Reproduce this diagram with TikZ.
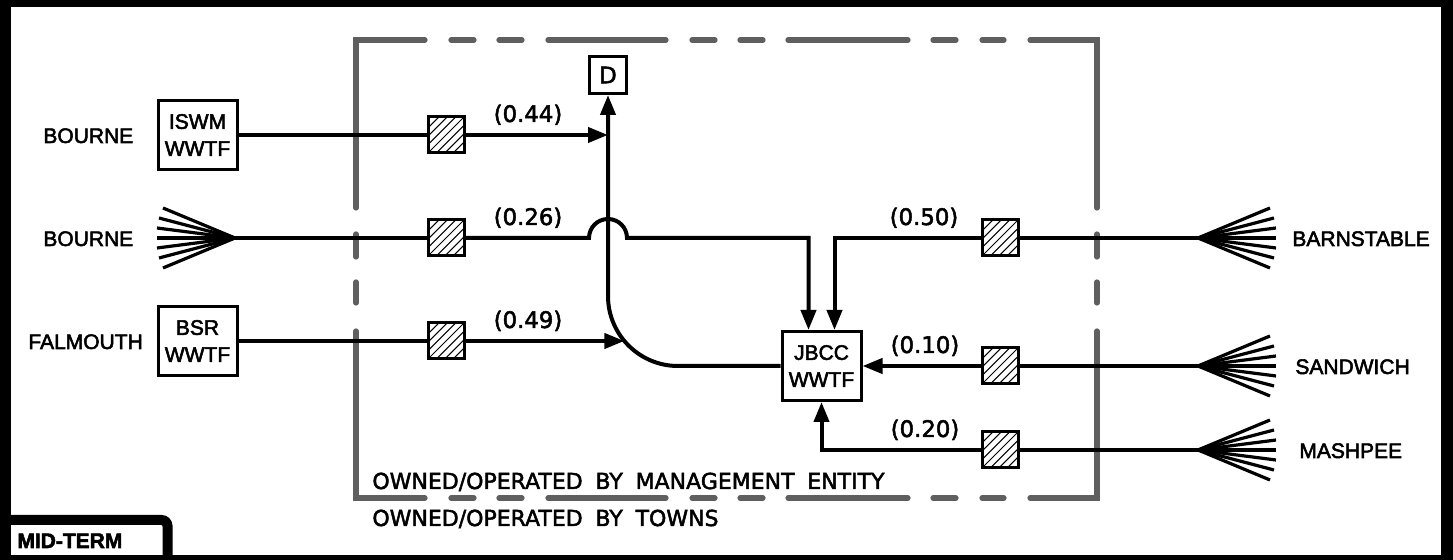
\documentclass[tikz,border=0pt]{standalone}
\usepackage{fontspec}
\setmainfont{Liberation Sans}[FakeBold=2.5]
\newfontfamily\cadfont{DejaVu Sans}[FakeBold=2.2]
\newfontfamily\numfont{DejaVu Sans}[FakeBold=2.2]
\usepackage{tikz}
\usetikzlibrary{arrows.meta, positioning, calc}
\definecolor{ownedgray}{RGB}{95, 95, 95}
\newcommand{\labelfont}{\fontsize{10.5pt}{13.5pt}\selectfont}
\newcommand{\cadlabelfont}{\cadfont\fontsize{11pt}{13pt}\selectfont\spaceskip=6.4pt\relax}
\tikzset{
    plant/.style={rectangle, draw, line width=1.5pt, fill=white, minimum width=39.5pt, minimum height=34.5pt, inner sep=0pt, align=center, font=\labelfont},
    dbox/.style={rectangle, draw, line width=1.5pt, fill=white, minimum size=18.5pt, inner sep=0pt, font=\numfont\fontsize{11.4pt}{13pt}\selectfont},
    meter/.style={rectangle, draw, line width=1.5pt, fill=white, minimum size=18pt, inner sep=0pt,
        path picture={\foreach \k in {-4,...,4} \draw[line width=0.5pt] ([xshift=\k*4.2pt]path picture bounding box.south west) -- ++(18pt,18pt);}},
    pipe/.style={draw, line width=2pt},
    flow/.style={pipe, -{Triangle[length=10pt, width=7.5pt]}},
    fanline/.style={draw, line width=1.6pt},
    boundary/.style={draw=ownedgray, line width=2.6pt, line cap=round},
    townlabel/.style={font=\labelfont, inner sep=0pt, anchor=base west},
    flowlabel/.style={font=\numfont\fontsize{11.4pt}{13pt}\selectfont, inner sep=0pt, anchor=base},
    cadtext/.style={font=\cadlabelfont, inner sep=0pt, anchor=base west}
}

\begin{document}
\begin{tikzpicture}[x=0.5pt, y=-0.5pt]
        \useasboundingbox (0,0) rectangle (1453,560);

        % sheet frame
        \fill[black] (0,0) rectangle (1453,560);
        \fill[white] (11,7) rectangle (1441,555);
        \draw[line width=5pt, rounded corners=3pt] (0,520) -- (167.5,520) -- (167.5,562);
        \node[font=\labelfont\bfseries, inner sep=0pt, anchor=base west] (phase) at (17,548) {MID-TERM};

        % management entity boundary
        \draw[boundary] (425,40) -- (356,40) -- (356,208);
        \draw[boundary] (1030,40) -- (1097,40) -- (1097,208);
        \draw[boundary] (356,331) -- (356,498) -- (425,498);
        \draw[boundary] (1097,331) -- (1097,498) -- (1030,498);
        \foreach \y in {40,498}
            \foreach \a/\b in {451/474, 499/522, 548/666, 692/715, 740/763, 788/908, 933/956, 982/1004}
                \draw[boundary] (\a,\y) -- (\b,\y);
        \foreach \x in {356,1097}
            \foreach \a/\b in {234/257, 282/303}
                \draw[boundary] (\x,\a) -- (\x,\b);

        \node[cadtext] (mgmt) at (372,489) {OWNED/OPERATED BY MANAGEMENT ENTITY};
        \node[cadtext] (towns) at (372,526) {OWNED/OPERATED BY TOWNS};

        % plants
        \node[plant] (iswm) at (197.5,135) {ISWM\\WWTF};
        \node[plant] (bsr) at (197.5,341) {BSR\\WWTF};
        \node[plant] (jbcc) at (821.5,366) {JBCC\\WWTF};
        \node[dbox] (dest) at (608,75) {D};

        % town labels
        \node[townlabel] (lbourne) at (43,143) {BOURNE};
        \node[townlabel] (sbourne) at (43,246) {BOURNE};
        \node[townlabel] (falmouth) at (28,349) {FALMOUTH};
        \node[townlabel] (barnstable) at (1292,246) {BARNSTABLE};
        \node[townlabel] (sandwich) at (1295,374) {SANDWICH};
        \node[townlabel] (mashpee) at (1299,458) {MASHPEE};

        % collection fans
        \coordinate (bourneS) at (235,238);
        \coordinate (barnS) at (1198,238);
        \coordinate (sandS) at (1198,366);
        \coordinate (mashS) at (1198,450);
        \foreach \dy/\dx in {-30/72, -20/76, -10/78, 0/78, 10/78, 20/76, 30/72} {
            \draw[fanline] (bourneS) -- ++(-\dx,\dy);
            \foreach \fan in {barnS, sandS, mashS}
                \draw[fanline] (\fan) -- ++(\dx,\dy);
        }

        % connectors
        \coordinate (tee) at (608,135);
        \coordinate (merge) at (624.4,341);
        \draw[pipe] (iswm) -- (446,135);
        \draw[flow] (446,135) -- (tee);
        \draw[pipe] (bourneS) -- (446,238);
        \draw[flow] (446,238) -- (589,238) arc[start angle=180, end angle=360, radius=19] -| ($(jbcc.north)+(-13,0)$);
        \draw[pipe] (bsr) -- (446,341);
        \draw[flow] (446,341) -- (merge);
        \draw[flow] (jbcc.west) -- (678,366) arc[start angle=90, end angle=180, radius=70] -- (dest.south);
        \draw[pipe] (barnS) -- (1000,238);
        \draw[flow] (1000,238) -| ($(jbcc.north)+(13,0)$);
        \draw[pipe] (sandS) -- (1000,366);
        \draw[flow] (1000,366) -- (jbcc.east);
        \draw[pipe] (mashS) -- (1000,450);
        \draw[flow] (1000,450) -| (jbcc.south);

        % meters
        \node[meter] (m1) at (446,135) {};
        \node[meter] (m2) at (446,238) {};
        \node[meter] (m3) at (446,341) {};
        \node[meter] (m4) at (1000,238) {};
        \node[meter] (m5) at (1000,366) {};
        \node[meter] (m6) at (1000,450) {};

        % flow labels
        \node[flowlabel] (q44) at (528,122) {(0.44)};
        \node[flowlabel] (q26) at (528,225) {(0.26)};
        \node[flowlabel] (q49) at (528,328) {(0.49)};
        \node[flowlabel] (q50) at (924,225) {(0.50)};
        \node[flowlabel] (q10) at (925,353) {(0.10)};
        \node[flowlabel] (q20) at (925,437) {(0.20)};

    \end{tikzpicture}
\end{document}
